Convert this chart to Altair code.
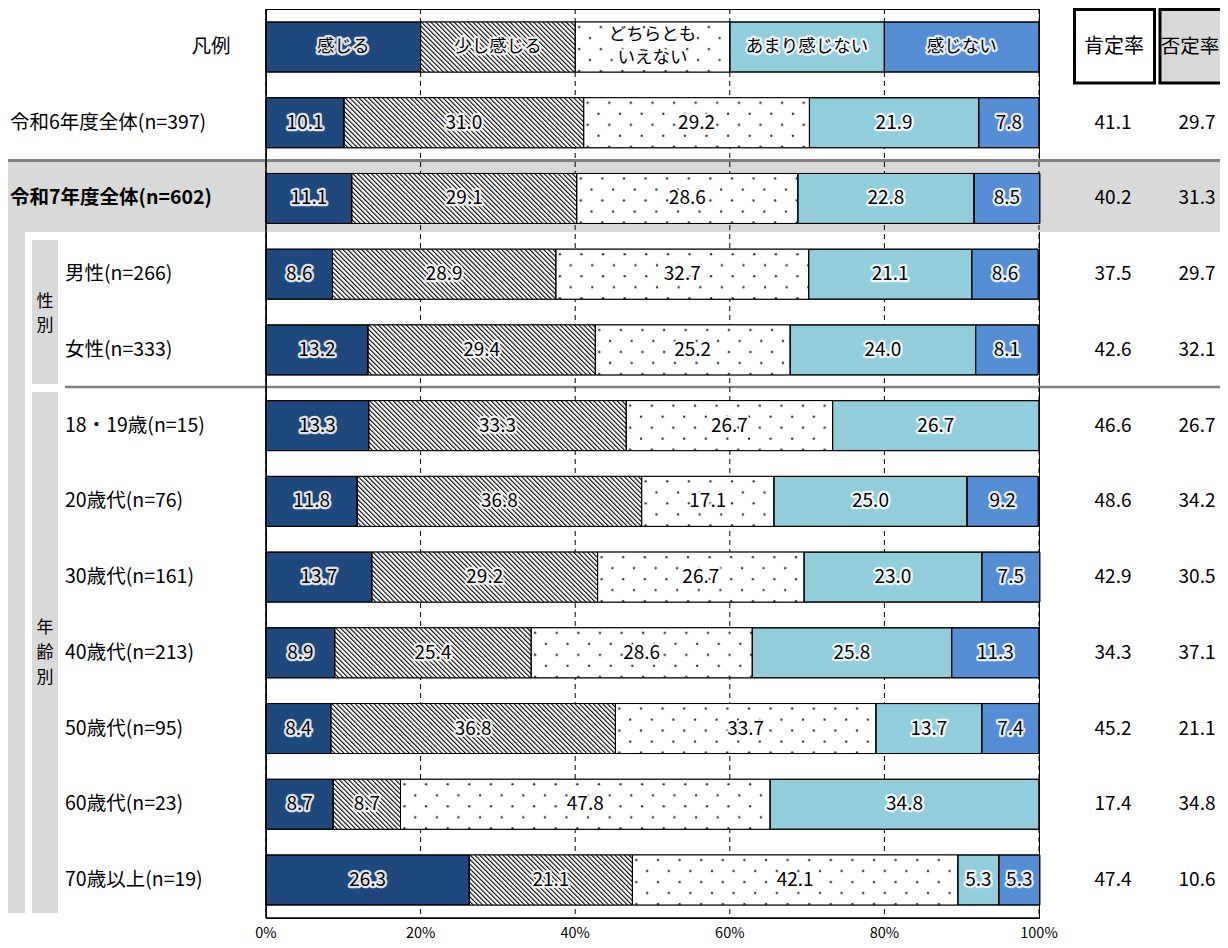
import base64
import altair as alt
import pandas as pd

# ---------------- data ----------------
categories = ["感じる", "少し感じる", "どちらともいえない", "あまり感じない", "感じない"]
legend_labels = ["感じる", "少し感じる", "どちらとも\nいえない", "あまり感じない", "感じない"]
legend_share = [20, 20, 20, 20, 20]
row_labels = [
    "令和6年度全体(n=397)", "令和7年度全体(n=602)", "男性(n=266)", "女性(n=333)",
    "18・19歳(n=15)", "20歳代(n=76)", "30歳代(n=161)", "40歳代(n=213)",
    "50歳代(n=95)", "60歳代(n=23)", "70歳以上(n=19)",
]
kanjiru = [10.1, 11.1, 8.6, 13.2, 13.3, 11.8, 13.7, 8.9, 8.4, 8.7, 26.3]
sukoshi = [31.0, 29.1, 28.9, 29.4, 33.3, 36.8, 29.2, 25.4, 36.8, 8.7, 21.1]
dochira = [29.2, 28.6, 32.7, 25.2, 26.7, 17.1, 26.7, 28.6, 33.7, 47.8, 42.1]
amari = [21.9, 22.8, 21.1, 24.0, 26.7, 25.0, 23.0, 25.8, 13.7, 34.8, 5.3]
kanjinai = [7.8, 8.5, 8.6, 8.1, 0.0, 9.2, 7.5, 11.3, 7.4, 0.0, 5.3]
kotei = [41.1, 40.2, 37.5, 42.6, 46.6, 48.6, 42.9, 34.3, 45.2, 17.4, 47.4]
hitei = [29.7, 31.3, 29.7, 32.1, 26.7, 34.2, 30.5, 37.1, 21.1, 34.8, 10.6]
group_names = ["性別", "年齢別"]
x_ticks = [0, 20, 40, 60, 80, 100]
legend_title = "凡例"
col_titles = ["肯定率", "否定率"]

# ---------------- tables ----------------
FONT = "Noto Sans CJK JP"
W, H = 773, 909
row_order = [legend_title] + row_labels
series = [kanjiru, sukoshi, dochira, amari, kanjinai]

recs = []
acc = 0
for j, c in enumerate(categories):
    v = legend_share[j]
    lab_text = legend_labels[j]
    recs.append(dict(row=legend_title, cat=c, value=v, x0=acc, x1=acc + v, label=lab_text,
                     kind="legend2" if "\n" in lab_text else "legend"))
    acc += v
for i, r in enumerate(row_labels):
    acc = 0
    for j, c in enumerate(categories):
        v = series[j][i]
        recs.append(dict(row=r, cat=c, value=v, x0=acc, x1=acc + v,
                         label=f"{v:.1f}", kind="data"))
        acc += v
bars = pd.DataFrame(recs)
bars = bars[bars["value"] > 0].copy()
bars["mid"] = (bars["x0"] + bars["x1"]) / 2

labels_df = pd.DataFrame({
    "row": row_order,
    "text": row_order,
    "level": ["legend"] + ["top", "topbold"] + ["sub"] * (len(row_labels) - 2),
})
rates_df = pd.DataFrame({
    "row": row_labels,
    "pos": [f"{v:.1f}" for v in kotei],
    "neg": [f"{v:.1f}" for v in hitei],
})
groups_df = pd.DataFrame({"g": ["\n".join(list(n)) for n in group_names]})
ticks_df = pd.DataFrame({"t": x_ticks})
one = pd.DataFrame({"k": [0]})

# ---------------- patterns ----------------
hatch_svg = (
    "<svg xmlns='http://www.w3.org/2000/svg' width='100%' height='100%'>"
    "<defs><pattern id='p' width='3.3' height='3.3' patternUnits='userSpaceOnUse' "
    "patternTransform='rotate(-45)'>"
    "<rect width='3.3' height='3.3' fill='#ffffff'/>"
    "<rect width='1.1' height='3.3' fill='#000000'/></pattern></defs>"
    "<rect width='100%' height='100%' fill='url(#p)'/></svg>"
)
dots_svg = (
    "<svg xmlns='http://www.w3.org/2000/svg' width='100%' height='100%'>"
    "<defs><pattern id='d' width='21.6' height='22' patternUnits='userSpaceOnUse'>"
    "<rect width='21.6' height='22' fill='#ffffff'/>"
    "<circle cx='4' cy='5' r='1.2' fill='#333333'/>"
    "<circle cx='14.8' cy='16' r='1.2' fill='#333333'/></pattern></defs>"
    "<rect width='100%' height='100%' fill='url(#d)'/></svg>"
)
hatch_url = "data:image/svg+xml;base64," + base64.b64encode(hatch_svg.encode()).decode()
dots_url = "data:image/svg+xml;base64," + base64.b64encode(dots_svg.encode()).decode()

# ---------------- scales ----------------
xscale = alt.Scale(domain=[0, 100], nice=False, zero=True)
yscale = alt.Scale(domain=row_order, paddingInner=0.34, paddingOuter=0.172)
Y = alt.Y("row:N", scale=yscale, axis=None, sort=row_order)
X0 = alt.X("x0:Q", scale=xscale, axis=None)

GREY = "#D9D9D9"

# ---------------- decorations ----------------
d = alt.Chart(one)
band_bg = d.mark_rect(color=GREY).encode(
    x=alt.value(-258), x2=alt.value(962), y=alt.value(152), y2=alt.value(223))
strip_left = d.mark_rect(color=GREY).encode(
    x=alt.value(-258), x2=alt.value(-241), y=alt.value(223), y2=alt.value(904))
box_sex = d.mark_rect(color=GREY).encode(
    x=alt.value(-234), x2=alt.value(-208), y=alt.value(231), y2=alt.value(375))
box_age = d.mark_rect(color=GREY).encode(
    x=alt.value(-234), x2=alt.value(-208), y=alt.value(383), y2=alt.value(904))
hdr_pos = d.mark_rect(fill="white", stroke="black", strokeWidth=3).encode(
    x=alt.value(808.5), x2=alt.value(888.5), y=alt.value(0.5), y2=alt.value(74))
hdr_neg = d.mark_rect(fill=GREY, stroke="black", strokeWidth=3).encode(
    x=alt.value(894), x2=alt.value(990), y=alt.value(0.5), y2=alt.value(74))
sep1 = d.mark_rule(color="#808080", strokeWidth=3).encode(
    x=alt.value(-258), x2=alt.value(962), y=alt.value(151.5))
sep2 = d.mark_rule(color="#808080", strokeWidth=2.5).encode(
    x=alt.value(-201), x2=alt.value(962), y=alt.value(378))
left_line = d.mark_rule(color="black", strokeWidth=1.5).encode(
    x=alt.value(0), y=alt.value(0), y2=alt.value(H))
bottom_line = d.mark_rule(color="black", strokeWidth=1.5).encode(
    x=alt.value(0), x2=alt.value(W), y=alt.value(H))

grid = alt.Chart(ticks_df).mark_rule(color="black", strokeDash=[5, 4], strokeWidth=1).encode(
    x=alt.X("t:Q", scale=xscale, axis=None))
tick_labels = alt.Chart(ticks_df).transform_calculate(
    tl="datum.t + '%'"
).mark_text(font=FONT, fontSize=14.5, align="center", baseline="middle", color="black").encode(
    x=alt.X("t:Q", scale=xscale, axis=None), y=alt.value(925), text="tl:N")

# ---------------- bars ----------------
b = alt.Chart(bars)
bar_fill = b.mark_rect(stroke="black", strokeWidth=1).encode(
    x=X0, x2="x1:Q", y=Y,
    color=alt.Color("cat:N", scale=alt.Scale(
        domain=categories,
        range=["#1F497D", "#FFFFFF", "#FFFFFF", "#92CDDC", "#558ED5"]), legend=None),
)
hatch = b.transform_filter(alt.datum.cat == categories[1]).mark_image(aspect=False).encode(
    x=X0, x2="x1:Q", y=Y, url=alt.value(hatch_url))
dots = b.transform_filter(alt.datum.cat == categories[2]).mark_image(aspect=False).encode(
    x=X0, x2="x1:Q", y=Y, url=alt.value(dots_url))
outline = b.mark_rect(fill="white", fillOpacity=0, stroke="black", strokeWidth=1).encode(
    x=X0, x2="x1:Q", y=Y)


def bar_text(kind, size, halo, dy=0):
    props = dict(font=FONT, fontSize=size, align="center", baseline="middle",
                 lineBreak="\n", lineHeight=23, dy=dy)
    if halo:
        props.update(fill="white", stroke="white", strokeWidth=4.5, strokeJoin="round",
                     strokeOpacity=0.85)
    else:
        props.update(fill="black")
    return b.transform_filter(alt.datum.kind == kind).mark_text(**props).encode(
        x=alt.X("mid:Q", scale=xscale, axis=None), y=Y, text="label:N")


# ---------------- labels ----------------
lab = alt.Chart(labels_df)


def row_text(level, xpx, align, weight="normal"):
    return lab.transform_filter(alt.datum.level == level).mark_text(
        font=FONT, fontSize=19.5, align=align, baseline="middle", color="black",
        fontWeight=weight).encode(x=alt.value(xpx), y=Y, text="text:N")


lbl_legend = row_text("legend", -55, "center")
lbl_top = row_text("top", -256, "left")
lbl_bold = row_text("topbold", -256, "left", "bold")
lbl_sub = row_text("sub", -201, "left")

grp = alt.Chart(groups_df)
grp_sex = grp.transform_filter(alt.datum.g == "\n".join(list(group_names[0]))).mark_text(
    font=FONT, fontSize=17, align="center", baseline="middle", lineBreak="\n",
    lineHeight=24, color="black").encode(x=alt.value(-221), y=alt.value(293), text="g:N")
grp_age = grp.transform_filter(alt.datum.g == "\n".join(list(group_names[1]))).mark_text(
    font=FONT, fontSize=17, align="center", baseline="middle", lineBreak="\n",
    lineHeight=25, color="black").encode(x=alt.value(-221), y=alt.value(619), text="g:N")

rt = alt.Chart(rates_df)
pos_txt = rt.mark_text(font=FONT, fontSize=19, align="center", baseline="middle",
                       color="black").encode(x=alt.value(847), y=Y, text="pos:N")
neg_txt = rt.mark_text(font=FONT, fontSize=19, align="center", baseline="middle",
                       color="black").encode(x=alt.value(931), y=Y, text="neg:N")

hdr = alt.Chart(pd.DataFrame({"h": col_titles}))
hdr_pos_t = hdr.transform_filter(alt.datum.h == col_titles[0]).mark_text(
    font=FONT, fontSize=20, align="center", baseline="middle", color="black").encode(
    x=alt.value(848), y=alt.value(38), text="h:N")
hdr_neg_t = hdr.transform_filter(alt.datum.h == col_titles[1]).mark_text(
    font=FONT, fontSize=19.5, align="center", baseline="middle", color="black").encode(
    x=alt.value(924), y=alt.value(38), text="h:N")

chart = alt.layer(
    band_bg, strip_left, box_sex, box_age, hdr_pos, hdr_neg, sep1, sep2, grid,
    bar_fill, hatch, dots, outline, left_line, bottom_line, tick_labels,
    bar_text("legend", 17.5, True), bar_text("legend", 17.5, False),
    bar_text("legend2", 17.5, True, -12), bar_text("legend2", 17.5, False, -12),
    bar_text("data", 19, True), bar_text("data", 19, False),
    lbl_legend, lbl_top, lbl_bold, lbl_sub, grp_sex, grp_age,
    pos_txt, neg_txt, hdr_pos_t, hdr_neg_t,
).properties(
    width=W, height=H,
    autosize=alt.AutoSizeParams(type="none"),
    padding={"left": 258, "top": 1, "right": 181, "bottom": 30},
).configure_view(stroke="black", strokeWidth=1)

chart.save("out.html", embed_options={"renderer": "svg", "actions": False})
